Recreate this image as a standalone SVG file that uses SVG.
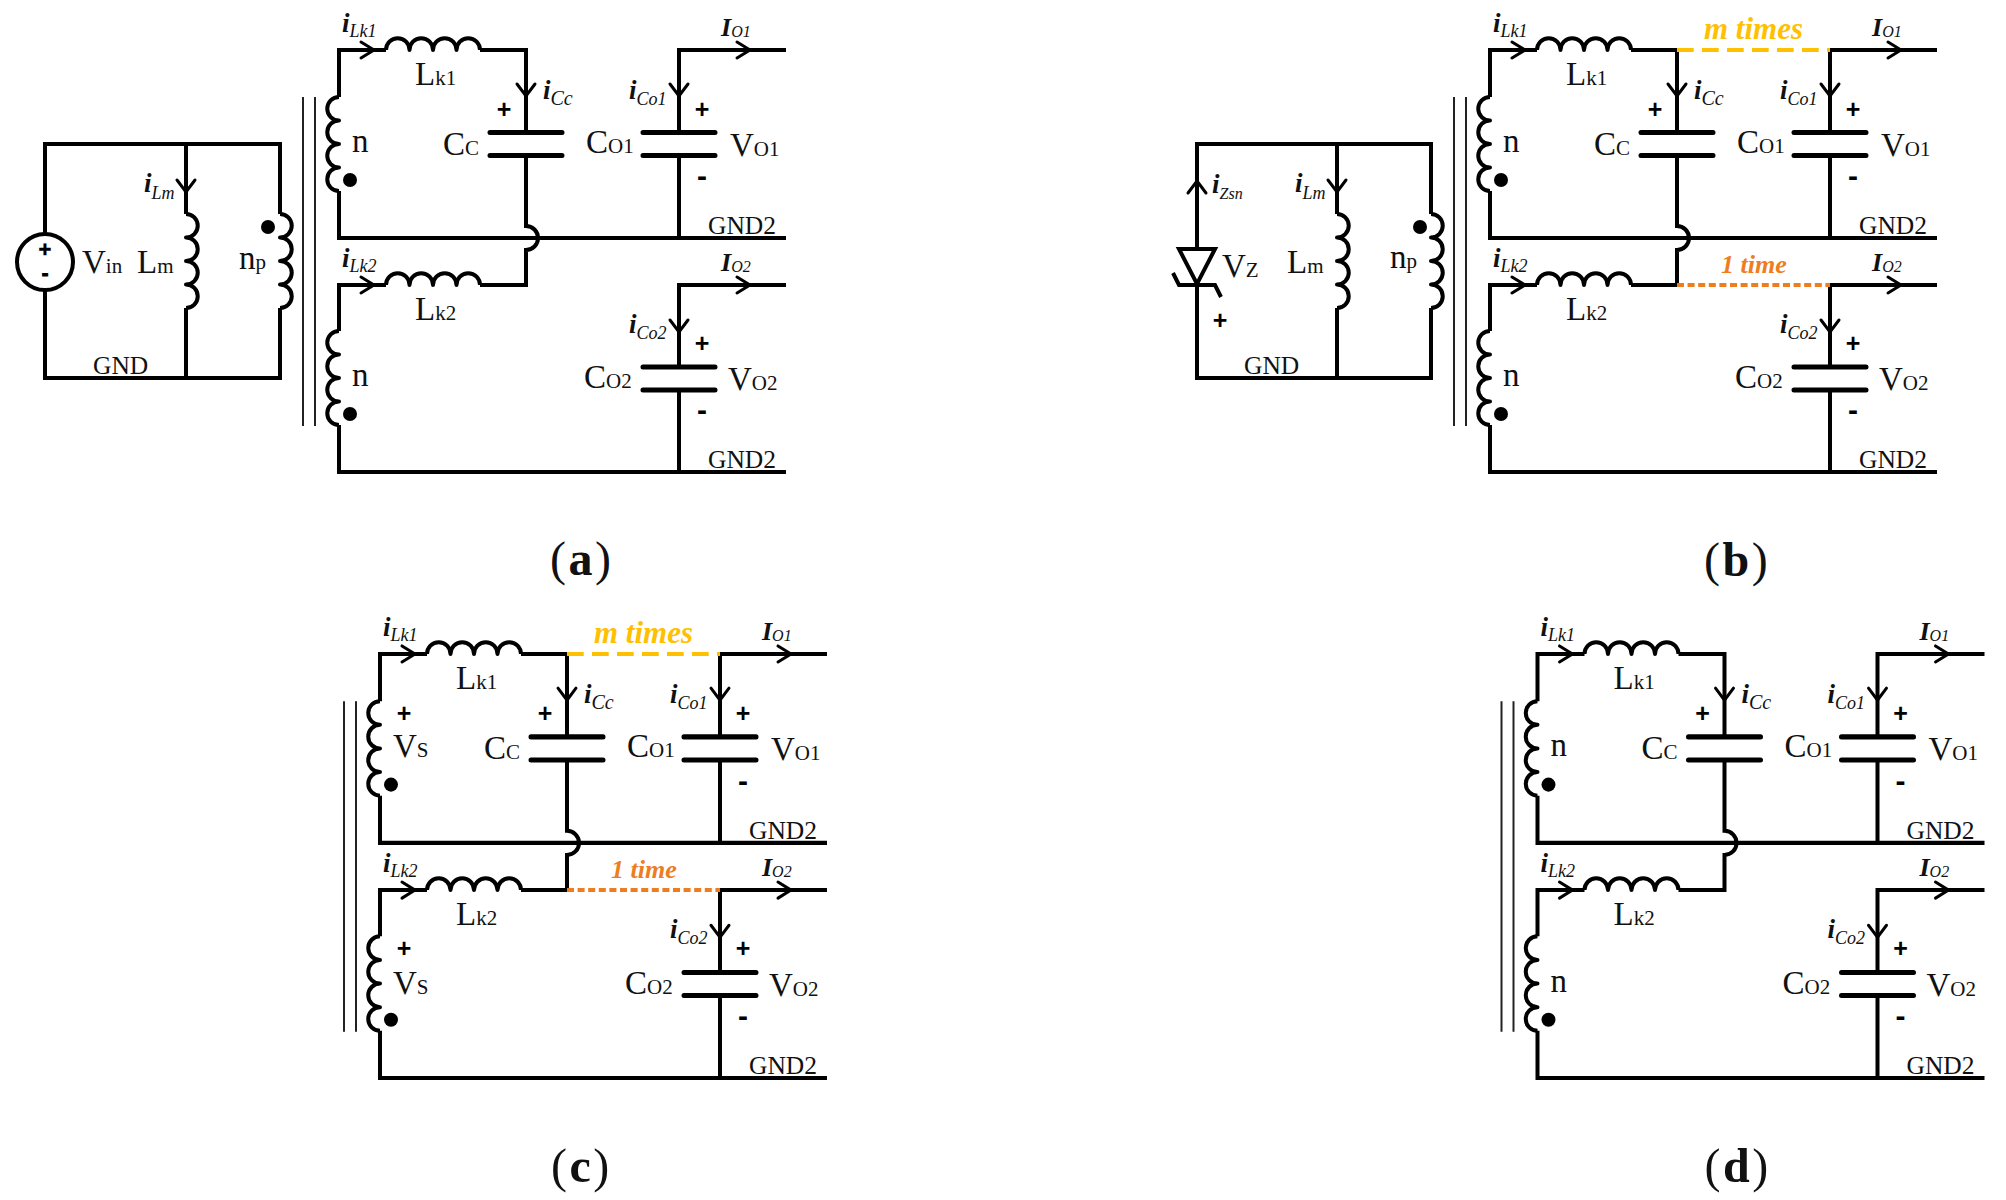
<svg xmlns="http://www.w3.org/2000/svg" width="2006" height="1200" viewBox="0 0 2006 1200">
<style>
text{font-family:"Liberation Serif","Times New Roman",serif;fill:#111}
.w{fill:none;stroke:#000;stroke-width:4;stroke-linejoin:miter}
.c{fill:none;stroke:#000;stroke-width:4;stroke-linejoin:round}
.p{fill:none;stroke:#000;stroke-width:5;stroke-linecap:round}
.a{fill:none;stroke:#000;stroke-width:3;stroke-linecap:round}
.k{fill:none;stroke:#222;stroke-width:2}
.d{fill:#000}
.m{font-size:33px}
.u{font-size:21px}
.g{font-size:25.5px}
.i{font-size:27px;font-weight:bold;font-style:italic}
.s{font-size:18px;font-weight:normal;font-style:italic}
.sc{font-size:20px;font-weight:normal;font-style:italic}
.sz{font-size:16px;font-weight:normal;font-style:italic}
.o{font-size:26px;font-weight:bold;font-style:italic}
.t{font-size:16px;font-weight:normal;font-style:italic}
.ps{font-family:"Liberation Sans",Arial,sans-serif;font-weight:bold;font-size:25px;text-anchor:middle;fill:#000}
.ms{font-family:"Liberation Sans",Arial,sans-serif;font-weight:bold;font-size:30px;text-anchor:middle;fill:#000}
.ps2{font-family:"Liberation Sans",Arial,sans-serif;font-weight:bold;font-size:22px;text-anchor:middle;fill:#000;stroke:#000;stroke-width:.5}
.ms2{font-family:"Liberation Sans",Arial,sans-serif;font-weight:bold;font-size:20px;text-anchor:middle;fill:#000;stroke:#000;stroke-width:1}
.cap{font-size:48px;letter-spacing:2.5px}
.cap tspan{font-weight:bold}
.y{fill:none;stroke:#FFC000;stroke-width:4;stroke-dasharray:16.7 8.3}
.r{fill:none;stroke:#ED7D1F;stroke-width:4;stroke-dasharray:7 3.6}
.yt{font-size:31px;font-weight:bold;font-style:italic;fill:#FFC000}
.rt{font-size:26px;font-weight:bold;font-style:italic;fill:#ED7D1F}
</style>
<defs>
<path id="cr" class="c" d="M0 0a11.75 11.75 0 0 1 0 23.5a11.75 11.75 0 0 1 0 23.5a11.75 11.75 0 0 1 0 23.5a11.75 11.75 0 0 1 0 23.5"/>
<path id="cl" class="c" d="M0 0a11.75 11.75 0 0 0 0 23.5a11.75 11.75 0 0 0 0 23.5a11.75 11.75 0 0 0 0 23.5a11.75 11.75 0 0 0 0 23.5"/>
<path id="ch" class="c" d="M0 0a11.75 11.75 0 0 1 23.5 0a11.75 11.75 0 0 1 23.5 0a11.75 11.75 0 0 1 23.5 0a11.75 11.75 0 0 1 23.5 0"/>
<path id="ar" class="a" d="M-13 -8L0 0L-13 8"/>
<path id="ad" class="a" d="M-9 -12L0 0L9 -12"/>
<path id="cap" class="p" d="M-36 0H36M-36 23H36"/>
</defs>

<g id="panel-a">
<g id="a-connectors">
<path class="w" d="M45 234V144H280V214M186 144V214M186 308V378M45 290V378H280V308"/>
<path class="w" d="M339 97V50H386M480 50H526V132M339 191V238H786M526 155V226a12 12 0 0 1 0 24V285H480M386 285H339V331M339 425V472H786M786 50H679V132M679 155V238M786 285H679V367M679 390V472"/>
</g>
<g id="a-Vin"><circle class="w" cx="45" cy="262" r="28"/><text class="ps2" x="45" y="257">+</text><text class="ms2" x="45" y="280">-</text><text class="m" x="82" y="273">V<tspan class="u">in</tspan></text></g>
<g id="a-Lm"><use href="#cr" x="186" y="214"/><use href="#ad" x="186" y="192"/><text class="i" x="144" y="192">i<tspan class="s" dy="7">Lm</tspan></text><text class="m" x="137" y="273">L<tspan class="u">m</tspan></text></g>
<g id="a-np"><use href="#cr" x="280" y="214"/><circle class="d" cx="268" cy="227" r="7"/><text class="m" x="239" y="269">n<tspan class="u">p</tspan></text></g>
<g id="a-GND"><text class="g" x="93" y="374">GND</text></g>
<g id="a-core"><path class="k" d="M303 97V426M315 97V426"/></g>
<g id="a-n1"><use href="#cl" x="339" y="97"/><circle class="d" cx="350" cy="180" r="7"/><text class="m" x="352" y="152">n</text></g>
<g id="a-n2"><use href="#cl" x="339" y="331"/><circle class="d" cx="350" cy="414" r="7"/><text class="m" x="352" y="386">n</text></g>
<g id="a-Lk1"><use href="#ch" x="386" y="50"/><use href="#ar" x="374" y="50"/><text class="i" x="342" y="32">i<tspan class="s" dy="5">Lk1</tspan></text><text class="m" x="415" y="85">L<tspan class="u">k1</tspan></text></g>
<g id="a-Lk2"><use href="#ch" x="386" y="285"/><use href="#ar" x="374" y="285"/><text class="i" x="342" y="267">i<tspan class="s" dy="5">Lk2</tspan></text><text class="m" x="415" y="320">L<tspan class="u">k2</tspan></text></g>
<g id="a-Cc"><use href="#cap" x="526" y="132.500"/><use href="#ad" x="526" y="96"/><text class="i" x="543" y="99">i<tspan class="sc" dy="6">Cc</tspan></text><text class="ps" x="504" y="118">+</text><text class="m" x="443" y="155">C<tspan class="u">C</tspan></text></g>
<g id="a-Co1"><use href="#cap" x="679" y="132.500"/><use href="#ad" x="679" y="96"/><text class="i" x="629" y="99">i<tspan class="s" dy="6">Co1</tspan></text><text class="ps" x="702" y="118">+</text><text class="ms" x="702" y="186">-</text><text class="m" x="586" y="153">C<tspan class="u">O1</tspan></text><text class="m" x="730" y="156">V<tspan class="u">O1</tspan></text></g>
<g id="a-Co2"><use href="#cap" x="679" y="367"/><use href="#ad" x="679" y="332"/><text class="i" x="629" y="333">i<tspan class="s" dy="6">Co2</tspan></text><text class="ps" x="702" y="352">+</text><text class="ms" x="702" y="420">-</text><text class="m" x="584" y="388">C<tspan class="u">O2</tspan></text><text class="m" x="728" y="390">V<tspan class="u">O2</tspan></text></g>
<g id="a-Io1"><use href="#ar" x="750" y="50"/><text class="o" x="721" y="36">I<tspan class="t" dy="1">O1</tspan></text></g>
<g id="a-Io2"><use href="#ar" x="750" y="285"/><text class="o" x="721" y="271">I<tspan class="t" dy="1">O2</tspan></text></g>
<g id="a-gnd2"><text class="g" x="708" y="234">GND2</text><text class="g" x="708" y="468">GND2</text></g>
<text id="a-caption" class="cap" x="550" y="575">(<tspan>a</tspan>)</text>
</g>

<g id="panel-b" transform="translate(1151 0)">
<g id="b-connectors">
<path class="w" d="M46 249V144H280V214M186 144V214M186 308V378M46 285V378H280V308"/>
<path class="w" d="M339 97V50H386M480 50H526V132M339 191V238H786M526 155V226a12 12 0 0 1 0 24V285H480M386 285H339V331M339 425V472H786M786 50H679V132M679 155V238M786 285H679V367M679 390V472"/>
<path class="y" d="M526 50H679"/>
<path class="r" d="M526 285H679"/>
</g>
<g id="b-Vz"><path class="w" d="M28 249H64L46 284ZM22 273L28 285H64L70 297"/><path class="a" d="M37 193L46 181L55 193"/><text class="i" x="61" y="193">i<tspan class="sz" dy="6">Zsn</tspan></text><text class="m" x="71" y="277">V<tspan class="u">Z</tspan></text><text class="ps" x="69" y="329">+</text></g>
<g id="b-Lm"><use href="#cr" x="186" y="214"/><use href="#ad" x="186" y="192"/><text class="i" x="144" y="192">i<tspan class="s" dy="7">Lm</tspan></text><text class="m" x="136" y="273">L<tspan class="u">m</tspan></text></g>
<g id="b-np"><use href="#cr" x="280" y="214"/><circle class="d" cx="269" cy="227" r="7"/><text class="m" x="239" y="268">n<tspan class="u">p</tspan></text></g>
<g id="b-GND"><text class="g" x="93" y="374">GND</text></g>
<g id="b-core"><path class="k" d="M303 97V426M315 97V426"/></g>
<g id="b-n1"><use href="#cl" x="339" y="97"/><circle class="d" cx="350" cy="180" r="7"/><text class="m" x="352" y="152">n</text></g>
<g id="b-n2"><use href="#cl" x="339" y="331"/><circle class="d" cx="350" cy="414" r="7"/><text class="m" x="352" y="386">n</text></g>
<g id="b-Lk1"><use href="#ch" x="386" y="50"/><use href="#ar" x="374" y="50"/><text class="i" x="342" y="32">i<tspan class="s" dy="5">Lk1</tspan></text><text class="m" x="415" y="85">L<tspan class="u">k1</tspan></text></g>
<g id="b-Lk2"><use href="#ch" x="386" y="285"/><use href="#ar" x="374" y="285"/><text class="i" x="342" y="267">i<tspan class="s" dy="5">Lk2</tspan></text><text class="m" x="415" y="320">L<tspan class="u">k2</tspan></text></g>
<g id="b-Cc"><use href="#cap" x="526" y="132.500"/><use href="#ad" x="526" y="96"/><text class="i" x="543" y="99">i<tspan class="sc" dy="6">Cc</tspan></text><text class="ps" x="504" y="118">+</text><text class="m" x="443" y="155">C<tspan class="u">C</tspan></text></g>
<g id="b-Co1"><use href="#cap" x="679" y="132.500"/><use href="#ad" x="679" y="96"/><text class="i" x="629" y="99">i<tspan class="s" dy="6">Co1</tspan></text><text class="ps" x="702" y="118">+</text><text class="ms" x="702" y="186">-</text><text class="m" x="586" y="153">C<tspan class="u">O1</tspan></text><text class="m" x="730" y="156">V<tspan class="u">O1</tspan></text></g>
<g id="b-Co2"><use href="#cap" x="679" y="367"/><use href="#ad" x="679" y="332"/><text class="i" x="629" y="333">i<tspan class="s" dy="6">Co2</tspan></text><text class="ps" x="702" y="352">+</text><text class="ms" x="702" y="420">-</text><text class="m" x="584" y="388">C<tspan class="u">O2</tspan></text><text class="m" x="728" y="390">V<tspan class="u">O2</tspan></text></g>
<g id="b-Io1"><use href="#ar" x="750" y="50"/><text class="o" x="721" y="36">I<tspan class="t" dy="1">O1</tspan></text></g>
<g id="b-Io2"><use href="#ar" x="750" y="285"/><text class="o" x="721" y="271">I<tspan class="t" dy="1">O2</tspan></text></g>
<g id="b-gnd2"><text class="g" x="708" y="234">GND2</text><text class="g" x="708" y="468">GND2</text></g>
<text class="yt" x="553" y="39">m times</text>
<text class="rt" x="570" y="273">1 time</text>
<text id="b-caption" class="cap" x="553" y="576">(<tspan>b</tspan>)</text>
</g>

<g id="panel-c" transform="translate(41 603.760) scale(1 1.0047)">
<g id="c-connectors">
<path class="w" d="M339 97V50H386M480 50H526V132M339 191V238H786M526 155V226a12 12 0 0 1 0 24V285H480M386 285H339V331M339 425V472H786M786 50H679V132M679 155V238M786 285H679V367M679 390V472"/>
<path class="y" d="M526 50H679"/>
<path class="r" d="M526 285H679"/>
</g>
<g id="c-core"><path class="k" d="M303 97V426M315 97V426"/></g>
<g id="c-n1"><use href="#cl" x="339" y="97"/><circle class="d" cx="350" cy="180" r="7"/><text class="ps" x="363" y="118">+</text><text class="m" x="352" y="153">V<tspan class="u">S</tspan></text></g>
<g id="c-n2"><use href="#cl" x="339" y="331"/><circle class="d" cx="350" cy="414" r="7"/><text class="ps" x="363" y="352">+</text><text class="m" x="352" y="388">V<tspan class="u">S</tspan></text></g>
<g id="c-Lk1"><use href="#ch" x="386" y="50"/><use href="#ar" x="374" y="50"/><text class="i" x="342" y="32">i<tspan class="s" dy="5">Lk1</tspan></text><text class="m" x="415" y="85">L<tspan class="u">k1</tspan></text></g>
<g id="c-Lk2"><use href="#ch" x="386" y="285"/><use href="#ar" x="374" y="285"/><text class="i" x="342" y="267">i<tspan class="s" dy="5">Lk2</tspan></text><text class="m" x="415" y="320">L<tspan class="u">k2</tspan></text></g>
<g id="c-Cc"><use href="#cap" x="526" y="132.500"/><use href="#ad" x="526" y="96"/><text class="i" x="543" y="99">i<tspan class="sc" dy="6">Cc</tspan></text><text class="ps" x="504" y="118">+</text><text class="m" x="443" y="155">C<tspan class="u">C</tspan></text></g>
<g id="c-Co1"><use href="#cap" x="679" y="132.500"/><use href="#ad" x="679" y="96"/><text class="i" x="629" y="99">i<tspan class="s" dy="6">Co1</tspan></text><text class="ps" x="702" y="118">+</text><text class="ms" x="702" y="186">-</text><text class="m" x="586" y="153">C<tspan class="u">O1</tspan></text><text class="m" x="730" y="156">V<tspan class="u">O1</tspan></text></g>
<g id="c-Co2"><use href="#cap" x="679" y="367"/><use href="#ad" x="679" y="332"/><text class="i" x="629" y="333">i<tspan class="s" dy="6">Co2</tspan></text><text class="ps" x="702" y="352">+</text><text class="ms" x="702" y="420">-</text><text class="m" x="584" y="388">C<tspan class="u">O2</tspan></text><text class="m" x="728" y="390">V<tspan class="u">O2</tspan></text></g>
<g id="c-Io1"><use href="#ar" x="750" y="50"/><text class="o" x="721" y="36">I<tspan class="t" dy="1">O1</tspan></text></g>
<g id="c-Io2"><use href="#ar" x="750" y="285"/><text class="o" x="721" y="271">I<tspan class="t" dy="1">O2</tspan></text></g>
<g id="c-gnd2"><text class="g" x="708" y="234">GND2</text><text class="g" x="708" y="468">GND2</text></g>
<text class="yt" x="553" y="39">m times</text>
<text class="rt" x="570" y="273">1 time</text>
<text id="c-caption" class="cap" x="510" y="576">(<tspan>c</tspan>)</text>
</g>

<g id="panel-d" transform="translate(1198.500 603.760) scale(1 1.0047)">
<g id="d-connectors">
<path class="w" d="M339 97V50H386M480 50H526V132M339 191V238H786M526 155V226a12 12 0 0 1 0 24V285H480M386 285H339V331M339 425V472H786M786 50H679V132M679 155V238M786 285H679V367M679 390V472"/>
</g>
<g id="d-core"><path class="k" d="M303 97V426M315 97V426"/></g>
<g id="d-n1"><use href="#cl" x="339" y="97"/><circle class="d" cx="350" cy="180" r="7"/><text class="m" x="352" y="152">n</text></g>
<g id="d-n2"><use href="#cl" x="339" y="331"/><circle class="d" cx="350" cy="414" r="7"/><text class="m" x="352" y="386">n</text></g>
<g id="d-Lk1"><use href="#ch" x="386" y="50"/><use href="#ar" x="374" y="50"/><text class="i" x="342" y="32">i<tspan class="s" dy="5">Lk1</tspan></text><text class="m" x="415" y="85">L<tspan class="u">k1</tspan></text></g>
<g id="d-Lk2"><use href="#ch" x="386" y="285"/><use href="#ar" x="374" y="285"/><text class="i" x="342" y="267">i<tspan class="s" dy="5">Lk2</tspan></text><text class="m" x="415" y="320">L<tspan class="u">k2</tspan></text></g>
<g id="d-Cc"><use href="#cap" x="526" y="132.500"/><use href="#ad" x="526" y="96"/><text class="i" x="543" y="99">i<tspan class="sc" dy="6">Cc</tspan></text><text class="ps" x="504" y="118">+</text><text class="m" x="443" y="155">C<tspan class="u">C</tspan></text></g>
<g id="d-Co1"><use href="#cap" x="679" y="132.500"/><use href="#ad" x="679" y="96"/><text class="i" x="629" y="99">i<tspan class="s" dy="6">Co1</tspan></text><text class="ps" x="702" y="118">+</text><text class="ms" x="702" y="186">-</text><text class="m" x="586" y="153">C<tspan class="u">O1</tspan></text><text class="m" x="730" y="156">V<tspan class="u">O1</tspan></text></g>
<g id="d-Co2"><use href="#cap" x="679" y="367"/><use href="#ad" x="679" y="332"/><text class="i" x="629" y="333">i<tspan class="s" dy="6">Co2</tspan></text><text class="ps" x="702" y="352">+</text><text class="ms" x="702" y="420">-</text><text class="m" x="584" y="388">C<tspan class="u">O2</tspan></text><text class="m" x="728" y="390">V<tspan class="u">O2</tspan></text></g>
<g id="d-Io1"><use href="#ar" x="750" y="50"/><text class="o" x="721" y="36">I<tspan class="t" dy="1">O1</tspan></text></g>
<g id="d-Io2"><use href="#ar" x="750" y="285"/><text class="o" x="721" y="271">I<tspan class="t" dy="1">O2</tspan></text></g>
<g id="d-gnd2"><text class="g" x="708" y="234">GND2</text><text class="g" x="708" y="468">GND2</text></g>
<text id="d-caption" class="cap" x="506" y="576">(<tspan>d</tspan>)</text>
</g>
</svg>
